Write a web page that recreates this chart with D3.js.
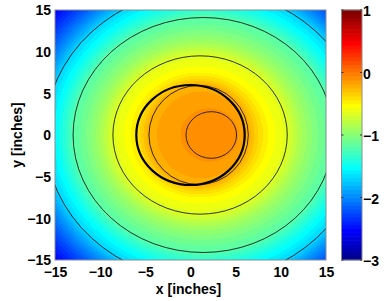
<!DOCTYPE html>
<html>
<head>
<meta charset="utf-8">
<script src="https://cdn.jsdelivr.net/npm/d3@7"></script>
<style>
  html, body { margin: 0; padding: 0; background: #fff; }
  svg text { font-family: "Liberation Sans", Arial, sans-serif; font-weight: bold; font-size: 14px; fill: #000; }
</style>
</head>
<body>
<svg id="chart" width="387" height="301"></svg>
<script>
// ---------------- data ----------------
const xTicks = [-15, -10, -5, 0, 5, 10, 15];
const yTicks = [-15, -10, -5, 0, 5, 10, 15];
const colorTicks = [-3, -2, -1, 0, 1];
const colorDomain = [-3, 1];

// Level rings of the field (inches): centre, radii, value on the ring
const ringCx    = [2.3,   2.3,  0.9,  1.0,  1.06,  1.4,  1.5,  1.5];
const ringCy    = [0,     0,    0,    0,    0,     0,    0,    0];
const ringRx    = [0,     2.8,  5.5,  7.6,  9.65,  14.4, 17.6, 23.0];
const ringRy    = [0,     2.8,  5.95, 7.5,  9.5,   14.1, 17.5, 23.0];
const ringValue = [-0.08, -0.1, -0.2, -0.5, -0.65, -1.2, -1.7, -2.65];
// rings that are drawn as contour lines
const contourRings = [1, 2, 4, 5, 6];

// Thick outline circle (inches)
const outlineCx = [0];
const outlineCy = [0];
const outlineR  = [6];

// ---------------- layout ----------------
const plot = { left: 55, right: 326, top: 10, bottom: 260 };
const cbar = { left: 341.5, right: 362, top: 10, bottom: 260 };

const x = d3.scaleLinear().domain([-15, 15]).range([plot.left, plot.right]);
const y = d3.scaleLinear().domain([-15, 15]).range([plot.bottom, plot.top]);
const cy = d3.scaleLinear().domain(colorDomain).range([cbar.bottom, cbar.top]);

// MATLAB jet(64)
function jet64() {
  const m = 64, n = 16;
  const u = [];
  for (let i = 1; i <= n; i++) u.push(i / n);
  for (let i = 1; i < n; i++) u.push(1);
  for (let i = n; i >= 1; i--) u.push(i / n);
  const get = idx => (idx >= 1 && idx <= u.length) ? u[idx - 1] : 0;
  const out = [];
  for (let i = 1; i <= m; i++) {
    const r = get(i - 24), g = get(i - 8), b = get(i + 8);
    out.push([Math.round(r * 255), Math.round(g * 255), Math.round(b * 255)]);
  }
  return out;
}
const cmap = jet64();
const colorIndex = d3.scaleQuantize().domain(colorDomain).range(d3.range(64));
const colorOf = v => cmap[colorIndex(Math.max(colorDomain[0], Math.min(colorDomain[1] - 1e-9, v)))];

function fieldValue(px, py) {
  const n = ringCx.length;
  const d = ringCx.map((c, k) => k === 0 ? 0 :
    Math.hypot((px - c) / ringRx[k], (py - ringCy[k]) / ringRy[k]));
  if (d[1] <= 1) return ringValue[0] + (ringValue[1] - ringValue[0]) * d[1];
  for (let k = 1; k < n - 1; k++) {
    if (d[k] >= 1 && d[k + 1] <= 1) {
      const a = d[k] - 1, b = 1 - d[k + 1];
      const t = a / (a + b);
      return ringValue[k] + (ringValue[k + 1] - ringValue[k]) * t;
    }
  }
  return ringValue[n - 1];
}

const svg = d3.select("#chart");

// ---------------- heat map image ----------------
const W = Math.round(plot.right - plot.left), H = Math.round(plot.bottom - plot.top);
const canvas = document.createElement("canvas");
canvas.width = W; canvas.height = H;
const ctx = canvas.getContext("2d");
const img = ctx.createImageData(W, H);
for (let j = 0; j < H; j++) {
  const dy = y.invert(plot.top + j + 0.5);
  for (let i = 0; i < W; i++) {
    const dx = x.invert(plot.left + i + 0.5);
    const c = colorOf(fieldValue(dx, dy));
    const o = (j * W + i) * 4;
    img.data[o] = c[0]; img.data[o + 1] = c[1]; img.data[o + 2] = c[2]; img.data[o + 3] = 255;
  }
}
ctx.putImageData(img, 0, 0);
svg.append("image")
  .attr("x", plot.left).attr("y", plot.top)
  .attr("width", W).attr("height", H)
  .attr("href", canvas.toDataURL());

// clip
svg.append("clipPath").attr("id", "plotclip")
  .append("rect").attr("x", plot.left).attr("y", plot.top)
  .attr("width", plot.right - plot.left).attr("height", plot.bottom - plot.top);

const lines = svg.append("g").attr("clip-path", "url(#plotclip)");

// contour lines
lines.selectAll("ellipse.contour").data(contourRings).join("ellipse")
  .attr("class", "contour")
  .attr("cx", k => x(ringCx[k]))
  .attr("cy", k => y(ringCy[k]))
  .attr("rx", k => x(ringCx[k] + ringRx[k]) - x(ringCx[k]))
  .attr("ry", k => y(ringCy[k]) - y(ringCy[k] + ringRy[k]))
  .attr("fill", "none")
  .attr("stroke", "#111")
  .attr("stroke-opacity", 0.85)
  .attr("stroke-width", 1);

// thick outline circle
lines.selectAll("ellipse.outline").data(outlineR).join("ellipse")
  .attr("class", "outline")
  .attr("cx", (d, i) => x(outlineCx[i]))
  .attr("cy", (d, i) => y(outlineCy[i]))
  .attr("rx", (d, i) => x(outlineCx[i] + d) - x(outlineCx[i]))
  .attr("ry", (d, i) => y(outlineCy[i]) - y(outlineCy[i] + d))
  .attr("fill", "none")
  .attr("stroke", "#000")
  .attr("stroke-width", 2.2);

// frame
svg.append("rect")
  .attr("x", plot.left).attr("y", plot.top)
  .attr("width", plot.right - plot.left).attr("height", plot.bottom - plot.top)
  .attr("fill", "none").attr("stroke", "#8c8c8c").attr("stroke-width", 1);

// axes tick labels
const xAxis = d3.axisBottom(x).tickValues(xTicks).tickSize(0).tickPadding(7).tickFormat(d3.format("d"));
const gx = svg.append("g").attr("transform", `translate(0,${plot.bottom})`).call(xAxis);
gx.select(".domain").remove();
gx.selectAll("text").attr("font-size", null).attr("font-family", null);

const yAxis = d3.axisLeft(y).tickValues(yTicks).tickSize(0).tickPadding(4).tickFormat(d3.format("d"));
const gy = svg.append("g").attr("transform", `translate(${plot.left},0)`).call(yAxis);
gy.select(".domain").remove();
gy.selectAll("text").attr("font-size", null).attr("font-family", null).attr("dy", "0.34em");

// axis labels
svg.append("text").attr("x", (plot.left + plot.right) / 2 - 2).attr("y", 294)
  .attr("text-anchor", "middle").text("x [inches]");
svg.append("text")
  .attr("transform", `translate(22,${(plot.top + plot.bottom) / 2}) rotate(-90)`)
  .attr("text-anchor", "middle").text("y [inches]");

// ---------------- colorbar ----------------
const bands = d3.range(64);
const bandVal = i => colorDomain[0] + (i + 0.5) * (colorDomain[1] - colorDomain[0]) / 64;
const bandH = (cbar.bottom - cbar.top) / 64;
svg.append("g").selectAll("rect").data(bands).join("rect")
  .attr("x", cbar.left)
  .attr("y", i => cy(bandVal(i)) - bandH / 2 - 0.3)
  .attr("width", cbar.right - cbar.left)
  .attr("height", bandH + 0.6)
  .attr("fill", i => { const c = cmap[i]; return `rgb(${c[0]},${c[1]},${c[2]})`; });

svg.append("rect")
  .attr("x", cbar.left).attr("y", cbar.top)
  .attr("width", cbar.right - cbar.left).attr("height", cbar.bottom - cbar.top)
  .attr("fill", "none").attr("stroke", "#8c8c8c").attr("stroke-width", 1);

const cTickMarks = svg.append("g");
cTickMarks.selectAll("line.l").data(colorTicks).join("line").attr("class", "l")
  .attr("x1", cbar.left).attr("x2", cbar.left + 2)
  .attr("y1", d => cy(d)).attr("y2", d => cy(d))
  .attr("stroke", "#333").attr("stroke-width", 1);
cTickMarks.selectAll("line.r").data(colorTicks).join("line").attr("class", "r")
  .attr("x1", cbar.right - 2).attr("x2", cbar.right)
  .attr("y1", d => cy(d)).attr("y2", d => cy(d))
  .attr("stroke", "#333").attr("stroke-width", 1);

const cAxis = d3.axisRight(cy).tickValues(colorTicks).tickSize(0).tickPadding(1).tickFormat(d3.format("d"));
const gc = svg.append("g").attr("transform", `translate(${cbar.right},0)`).call(cAxis);
gc.select(".domain").remove();
gc.selectAll("text").attr("font-size", null).attr("font-family", null).attr("dy", "0.4em");
</script>
</body>
</html>
